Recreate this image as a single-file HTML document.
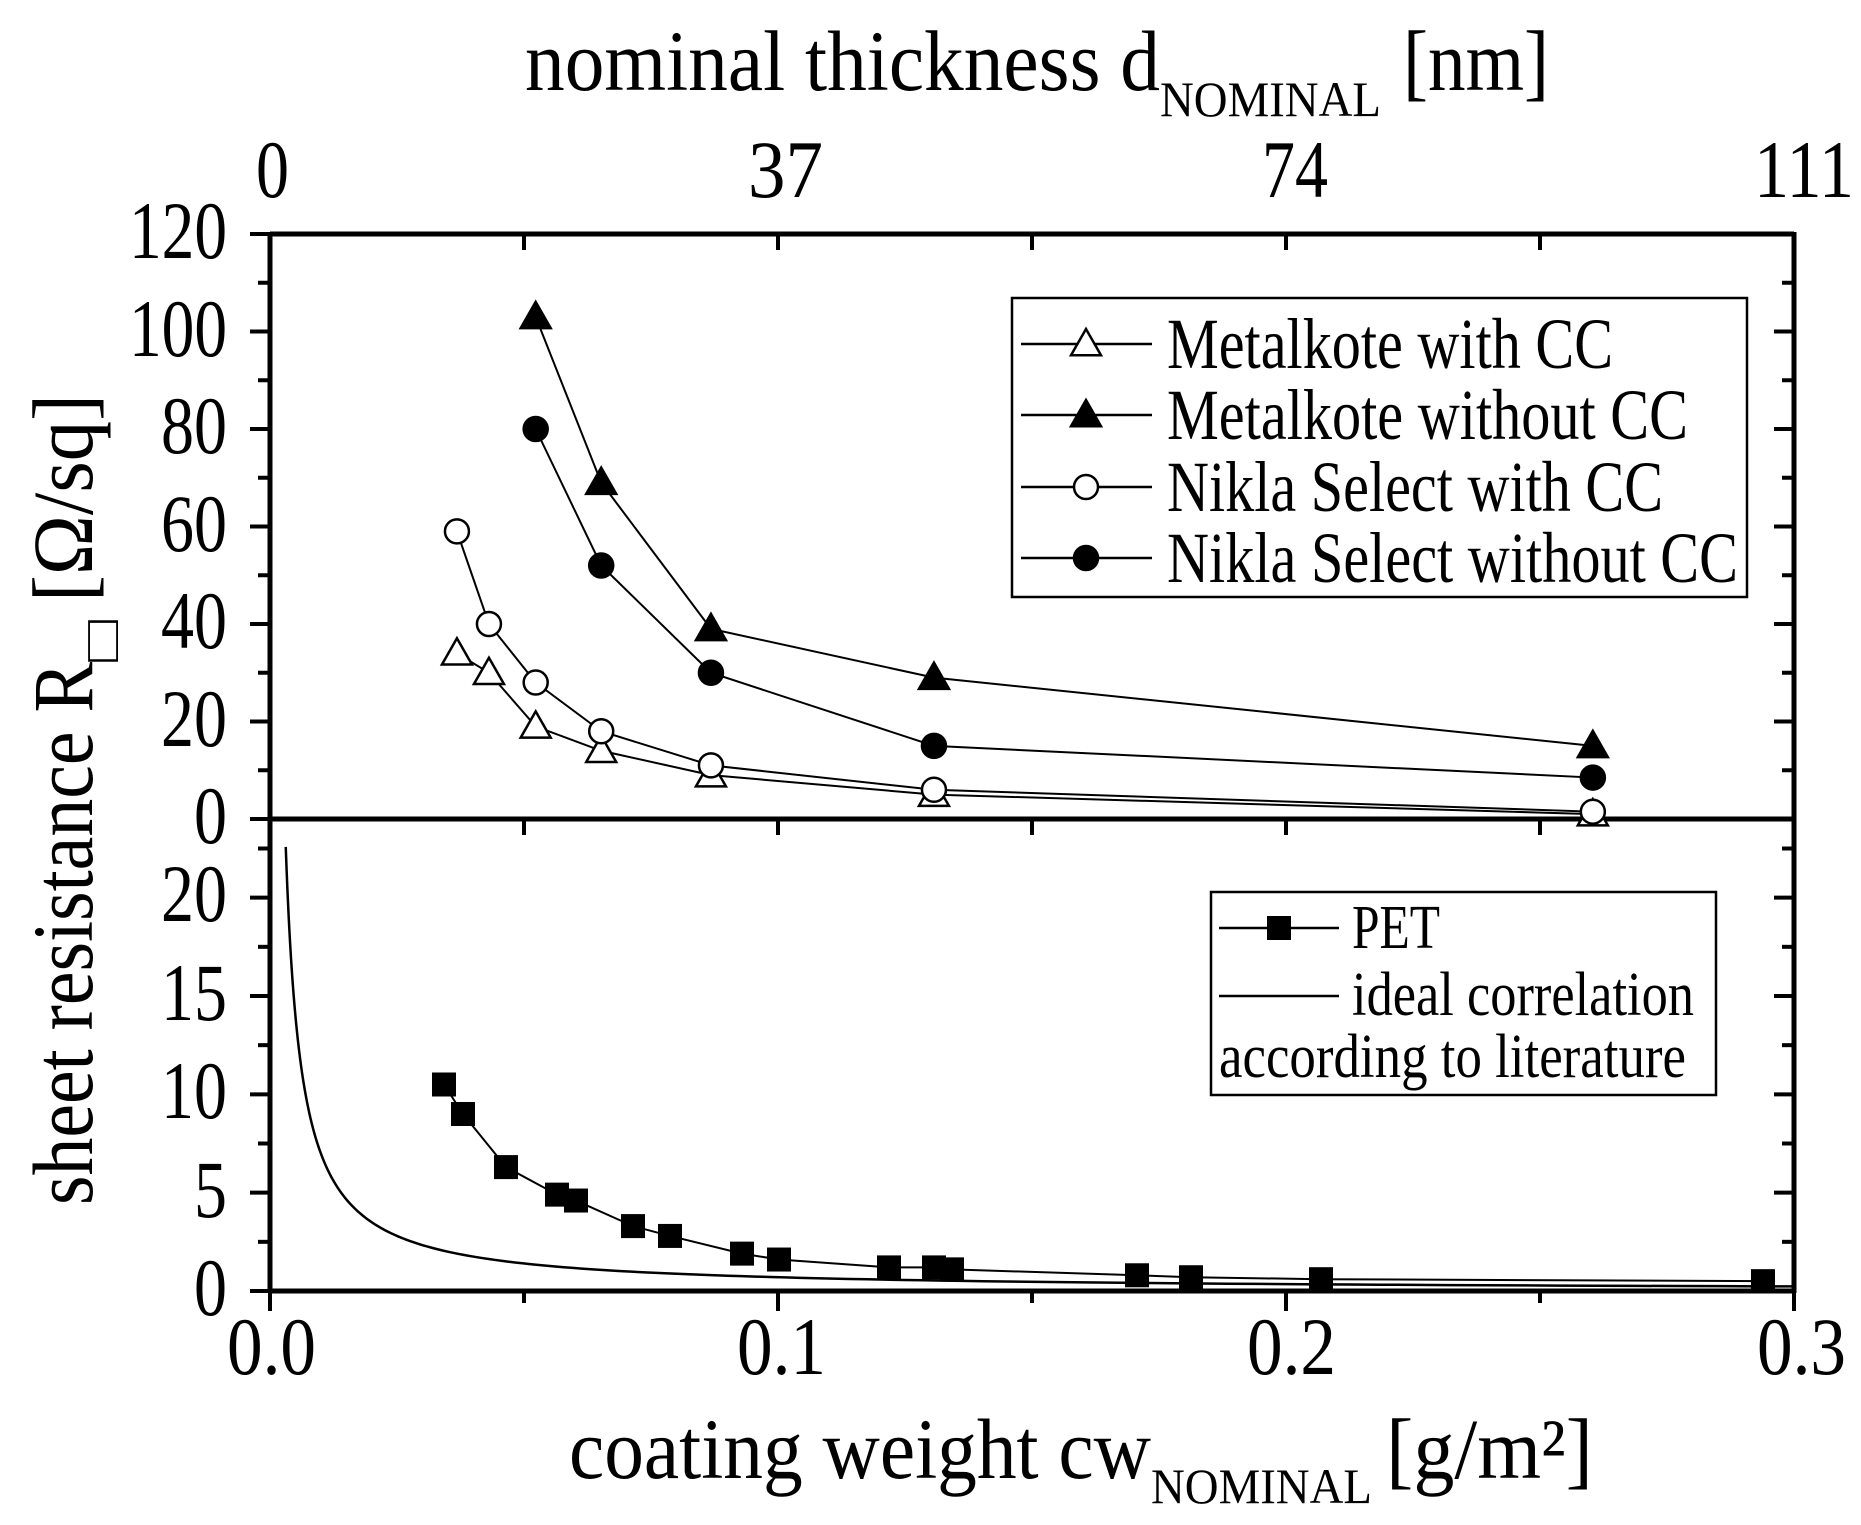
<!DOCTYPE html>
<html><head><meta charset="utf-8"><style>
html,body{margin:0;padding:0;background:#fff;}
svg{display:block;}
text{font-family:"Liberation Serif",serif;fill:#000;}
</style></head><body>
<svg id="s" width="1861" height="1525" viewBox="0 0 1861 1525" xmlns="http://www.w3.org/2000/svg">
<rect width="1861" height="1525" fill="#fff"/>
<g id="g"></g>
<!-- titles -->
<text x="525" y="90" font-size="86" textLength="635" lengthAdjust="spacingAndGlyphs">nominal thickness d</text>
<text x="1160" y="116" font-size="50" textLength="221" lengthAdjust="spacingAndGlyphs">NOMINAL</text>
<text x="1403" y="90" font-size="86" textLength="146" lengthAdjust="spacingAndGlyphs">[nm]</text>
<text x="569" y="1478" font-size="86" textLength="582" lengthAdjust="spacingAndGlyphs">coating weight cw</text>
<text x="1151" y="1503" font-size="50" textLength="221" lengthAdjust="spacingAndGlyphs">NOMINAL</text>
<text x="1386" y="1478" font-size="86" textLength="207" lengthAdjust="spacingAndGlyphs">[g/m²]</text>
<g transform="translate(92,0) rotate(-90)">
<text x="-1205" y="0" font-size="86" textLength="543" lengthAdjust="spacingAndGlyphs">sheet resistance R</text>
<text x="-662" y="26" font-size="50" textLength="42" lengthAdjust="spacingAndGlyphs">□</text>
<text x="-602" y="0" font-size="86" textLength="208" lengthAdjust="spacingAndGlyphs">[Ω/sq]</text>
</g>
<g font-size="82" lengthAdjust="spacingAndGlyphs">
<text x="256" y="197" textLength="33" lengthAdjust="spacingAndGlyphs">0</text>
<text x="748" y="197" textLength="75" lengthAdjust="spacingAndGlyphs">37</text>
<text x="1262" y="197" textLength="66" lengthAdjust="spacingAndGlyphs">74</text>
<text x="1754" y="197" textLength="100" lengthAdjust="spacingAndGlyphs">111</text>
<text x="227" y="1374" textLength="89" lengthAdjust="spacingAndGlyphs">0.0</text>
<text x="737" y="1374" textLength="89" lengthAdjust="spacingAndGlyphs">0.1</text>
<text x="1247" y="1374" textLength="89" lengthAdjust="spacingAndGlyphs">0.2</text>
<text x="1757" y="1374" textLength="89" lengthAdjust="spacingAndGlyphs">0.3</text>
</g>
<g font-size="82">
<text x="129" y="258" textLength="98" lengthAdjust="spacingAndGlyphs">120</text>
<text x="129" y="356" textLength="98" lengthAdjust="spacingAndGlyphs">100</text>
<text x="161" y="453" textLength="66" lengthAdjust="spacingAndGlyphs">80</text>
<text x="161" y="551" textLength="66" lengthAdjust="spacingAndGlyphs">60</text>
<text x="161" y="648" textLength="66" lengthAdjust="spacingAndGlyphs">40</text>
<text x="161" y="746" textLength="66" lengthAdjust="spacingAndGlyphs">20</text>
<text x="194" y="843" textLength="33" lengthAdjust="spacingAndGlyphs">0</text>
<text x="161" y="921" textLength="66" lengthAdjust="spacingAndGlyphs">20</text>
<text x="161" y="1020" textLength="66" lengthAdjust="spacingAndGlyphs">15</text>
<text x="161" y="1118" textLength="66" lengthAdjust="spacingAndGlyphs">10</text>
<text x="194" y="1217" textLength="33" lengthAdjust="spacingAndGlyphs">5</text>
<text x="194" y="1315" textLength="33" lengthAdjust="spacingAndGlyphs">0</text>
</g>
<!-- legend 1 -->
<rect x="1012" y="298" width="735" height="299" fill="none" stroke="#000" stroke-width="2.5"/>
<g font-size="72">
<text x="1167" y="368" textLength="446" lengthAdjust="spacingAndGlyphs">Metalkote with CC</text>
<text x="1167" y="439" textLength="521" lengthAdjust="spacingAndGlyphs">Metalkote without CC</text>
<text x="1167" y="511" textLength="496" lengthAdjust="spacingAndGlyphs">Nikla Select with CC</text>
<text x="1167" y="582" textLength="571" lengthAdjust="spacingAndGlyphs">Nikla Select without CC</text>
</g>
<!-- legend 2 -->
<rect x="1211" y="892" width="505" height="203" fill="none" stroke="#000" stroke-width="2.5"/>
<g font-size="62">
<text x="1352" y="948" textLength="88" lengthAdjust="spacingAndGlyphs">PET</text>
<text x="1352" y="1015" textLength="342" lengthAdjust="spacingAndGlyphs">ideal correlation</text>
<text x="1219" y="1077" textLength="467" lengthAdjust="spacingAndGlyphs">according to literature</text>
</g>
</svg>
<script>
var NS="http://www.w3.org/2000/svg",g=document.getElementById("g");
function el(t,a){var e=document.createElementNS(NS,t);for(var k in a)e.setAttribute(k,a[k]);g.appendChild(e);return e;}
var L=270,R=1794,T=234,M=819,B=1291;
function X(v){return L+(R-L)*v/0.3;}
function YU(v){return M-(M-T)*v/120;}
function YL(v){return B-(B-M)*v/24;}
function line(x1,y1,x2,y2,w){el("line",{x1:x1,y1:y1,x2:x2,y2:y2,stroke:"#000","stroke-width":w||5});}
line(L,T,R,T);line(L,M,R,M);line(L,B,R,B);line(L,T-2,L,B+2);line(R,T-2,R,B+2);
for(var i=0;i<=6;i++){var x=X(i*0.05);line(x,T,x,T+16,4);line(x,M,x,M+16,4);line(x,B,x,B+(i%2?12:20),4);}
for(var v=0;v<=120;v+=10){var y=YU(v),maj=v%20==0;line(L-(maj?20:12),y,L,y,4);line(R-(maj?20:12),y,R,y,4);}
for(var v=0;v<=22.5;v+=2.5){var y=YL(v),maj=v%5==0;line(L-(maj?20:12),y,L,y,4);line(R-(maj?20:12),y,R,y,4);}
function mk(type,x,y){
 if(type=="to"||type=="tf"){var s=15;el("polygon",{points:(x)+","+(y-s)+" "+(x-s)+","+(y+s*0.75)+" "+(x+s)+","+(y+s*0.75),fill:type=="tf"?"#000":"#fff",stroke:"#000","stroke-width":2.5});}
 else if(type=="co"||type=="cf"){el("circle",{cx:x,cy:y,r:12,fill:type=="cf"?"#000":"#fff",stroke:"#000","stroke-width":2.5});}
 else if(type=="sq"){el("rect",{x:x-12,y:y-12,width:24,height:24,fill:"#000"});}
}
function series(pts,type,yf){
 var d="";pts.forEach(function(p,i){d+=(i?"L":"M")+X(p[0])+","+yf(p[1]);});
 el("path",{d:d,fill:"none",stroke:"#000","stroke-width":2});
 pts.forEach(function(p){mk(type,X(p[0]),yf(p[1]));});
}
var xs=[0.0368,0.0431,0.0523,0.0652,0.0868,0.1307,0.2604];
series([[xs[0],34],[xs[1],30],[xs[2],19],[xs[3],14],[xs[4],9],[xs[5],5],[xs[6],1]],"to",YU);
series([[xs[2],103],[xs[3],69],[xs[4],39],[xs[5],29],[xs[6],15]],"tf",YU);
series([[xs[0],59],[xs[1],40],[xs[2],28],[xs[3],18],[xs[4],11],[xs[5],6],[xs[6],1.5]],"co",YU);
series([[xs[2],80],[xs[3],52],[xs[4],30],[xs[5],15],[xs[6],8.5]],"cf",YU);
var d="";for(var x=0.0031;x<=0.3;x*=1.03){d+=(d?"L":"M")+X(x)+","+YL(0.07/x);}
d+="L"+X(0.3)+","+YL(0.07/0.3);
el("path",{d:d,fill:"none",stroke:"#000","stroke-width":2.5});
var px=[444,463,506,557,576,633,670,742,779,889,934,952,1137,1191,1321,1763].map(function(o){return (o-L)/((R-L)/0.3);});
var py=[10.5,9,6.3,4.9,4.6,3.3,2.8,1.9,1.6,1.2,1.2,1.1,0.8,0.7,0.6,0.5];
series(px.map(function(x,i){return [x,py[i]];}),"sq",YL);
var ly=[344,415,487,558],lt=["to","tf","co","cf"];
for(var i=0;i<4;i++){line(1021,ly[i],1152,ly[i],2.5);mk(lt[i],1086,ly[i]);}
line(1219,928,1339,928,2.5);mk("sq",1279,928);
line(1219,996,1339,996,2.5);
</script>
</body></html>
